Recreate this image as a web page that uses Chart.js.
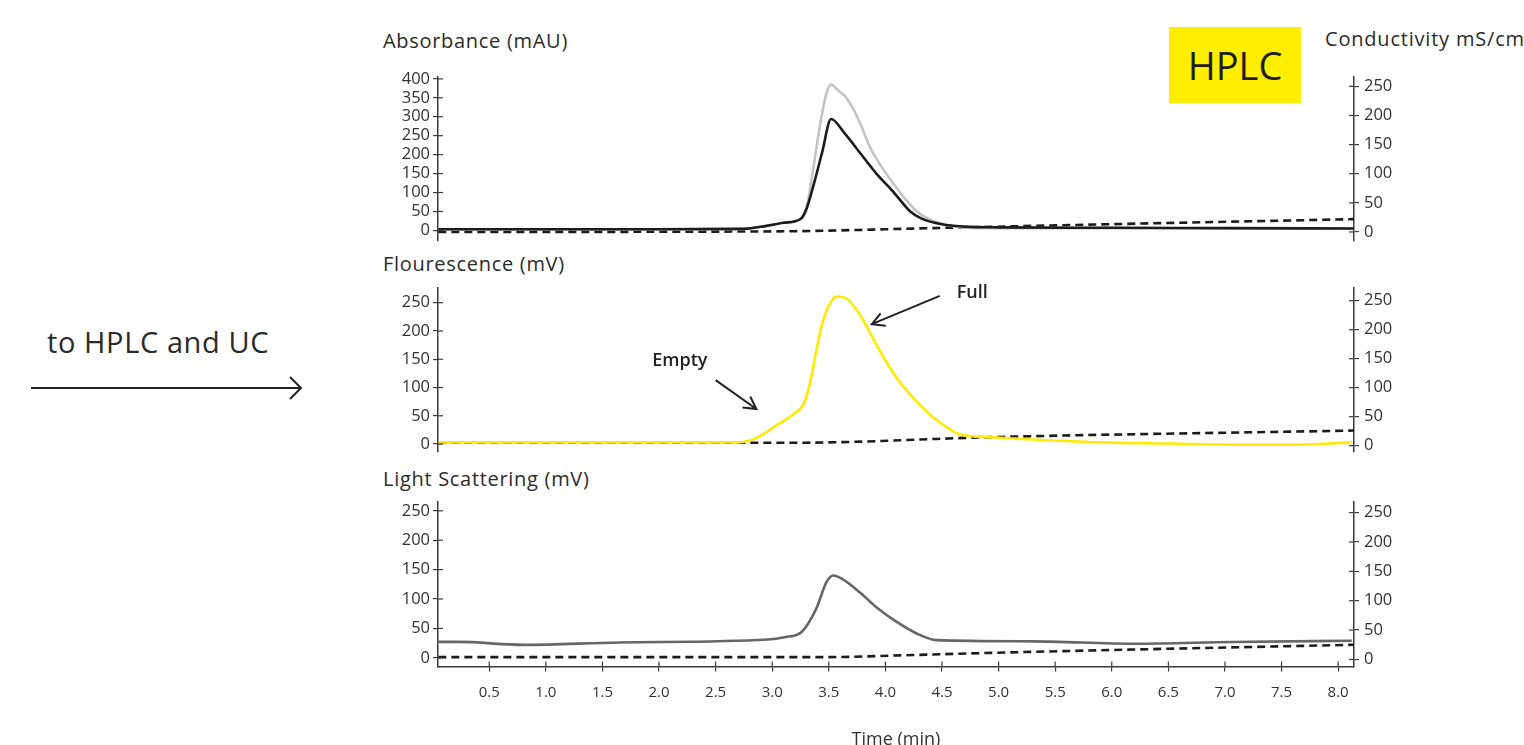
<!DOCTYPE html>
<html>
<head>
<meta charset="utf-8">
<script src="https://cdn.jsdelivr.net/npm/chart.js@4"></script>
<style>
  html, body { margin: 0; padding: 0; background: #fff; overflow: hidden; }
  body { width: 1524px; height: 745px; position: relative; font-family: "Open Sans", sans-serif; color: #2b2b2b; }
  canvas { position: absolute; left: 0; }
  .lbl { position: absolute; white-space: nowrap; line-height: 1; }
  .panel-title { font-size: 20px; left: 383px; letter-spacing: 0.7px; }
  #hplc { position: absolute; left: 1169px; top: 27px; width: 132px; height: 76px; background: #ffee00;
          font-size: 38px; display: flex; align-items: center; justify-content: center; color: #1e1e1e; }
</style>
</head>
<body>
<div class="lbl panel-title" style="top:31px">Absorbance (mAU)</div>
<div class="lbl panel-title" style="top:254px">Flourescence (mV)</div>
<div class="lbl panel-title" style="top:469px">Light Scattering (mV)</div>
<div class="lbl" style="left:1325px; top:29px; font-size:20px; letter-spacing:0.8px">Conductivity mS/cm</div>
<div id="hplc">HPLC</div>
<div class="lbl" style="left:47px; top:327px; font-size:29px; letter-spacing:0.6px">to HPLC and UC</div>
<svg style="position:absolute; left:0; top:370px" width="320" height="40">
  <line x1="31" y1="18" x2="301" y2="18" stroke="#222" stroke-width="2"/>
  <polyline points="290,7 301,18 290,29" fill="none" stroke="#222" stroke-width="2"/>
</svg>

<canvas id="absChart" width="1524" height="204" style="top:57px"></canvas>
<canvas id="flChart" width="1524" height="204" style="top:268px"></canvas>
<canvas id="lsChart" width="1524" height="278" style="top:482px"></canvas>

<script>
// ---- data ----
// Absorbance panel
const absTime = [0.05, 1.0, 2.0, 2.75, 2.95, 3.1, 3.25, 3.3, 3.37, 3.44, 3.52, 3.64, 3.78, 3.92, 4.07, 4.22, 4.32, 4.5, 4.7, 5.0, 6.0, 7.0, 8.14];
const absDark = [3, 3, 3, 4, 12, 20, 30, 55, 125, 205, 294, 256, 203, 150, 102, 50, 31, 16, 10, 8, 7, 6, 5];
const absLightTime = [0.05, 1.0, 2.0, 2.75, 2.95, 3.1, 3.25, 3.3, 3.36, 3.42, 3.48, 3.52, 3.58, 3.64, 3.72, 3.78, 3.86, 3.95, 4.07, 4.19, 4.3, 4.45, 4.6, 4.8, 5.0, 6.0, 7.0, 8.14];
const absLight = [3, 3, 3, 4, 12, 20, 30, 53, 159, 274, 363, 385, 370, 355, 318, 280, 222, 175, 124, 78, 45, 22, 11, 6, 6, 6, 5, 5];
const absCondTime = [0.05, 3.0, 4.5, 5.9, 8.14];
const absCond = [0, 1, 7, 13, 22];

// Fluorescence panel
const flTime = [0.05, 1, 2, 2.7, 2.86, 3.02, 3.18, 3.28, 3.33, 3.39, 3.44, 3.5, 3.57, 3.66, 3.75, 3.84, 3.95, 4.1, 4.25, 4.43, 4.65, 4.94, 5.2, 5.9, 6.5, 7.07, 7.66, 8.12];
const flSignal = [3, 3, 3, 3, 11, 31, 52, 72, 105, 165, 212, 245, 261, 257, 236, 206, 165, 117, 81, 46, 18, 12, 9, 3, 1, -1, -1, 3];
const flCondTime = [0.05, 3.2, 5.0, 8.14];
const flCond = [5, 5, 15, 26];

// Light scattering panel
const lsTime = [0.05, 0.23, 0.8, 1.65, 2.96, 3.11, 3.26, 3.39, 3.48, 3.54, 3.61, 3.77, 3.92, 4.1, 4.28, 4.45, 5.3, 6.2, 7.07, 8.12];
const lsSignal = [27, 27, 22, 26, 31, 35, 44, 84, 129, 140, 135, 112, 86, 61, 41, 30, 28, 24, 27, 29];
const lsCondTime = [0.05, 3.5, 4.13, 5.2, 8.14];
const lsCond = [4, 4, 7, 12.5, 25];

// ticks
const timeTicks = [0.5, 1.0, 1.5, 2.0, 2.5, 3.0, 3.5, 4.0, 4.5, 5.0, 5.5, 6.0, 6.5, 7.0, 7.5, 8.0];
const absTicks = [0, 50, 100, 150, 200, 250, 300, 350, 400];
const mvTicks = [0, 50, 100, 150, 200, 250];
const condTicks = [0, 50, 100, 150, 200, 250];

const axisColor = "#3a3a3a";
const textColor = "#333";
const fontFamily = "'Open Sans', sans-serif";

function pts(xs, ys) {
    return xs.map((x, i) => ({ x: x, y: ys[i] }));
}

function lineSet(xs, ys, color, axis, dashed) {
    return {
        data: pts(xs, ys),
        borderColor: color,
        borderWidth: 2.6,
        borderDash: dashed ? [8, 5] : [],
        pointRadius: 0,
        cubicInterpolationMode: "monotone",
        yAxisID: axis,
        fill: false
    };
}

function yScale(position, range, ticks) {
    return {
        type: "linear",
        position: position,
        min: range[0],
        max: range[1],
        afterBuildTicks: s => { s.ticks = ticks.map(v => ({ value: v })); },
        afterFit: s => { s.width = 50; },
        border: { display: true, color: axisColor, width: 1.5 },
        grid: { drawOnChartArea: false, drawTicks: true, tickLength: 5, color: axisColor, lineWidth: 1.2 },
        ticks: { color: textColor, padding: position === "left" ? 3 : 5, autoSkip: false, font: { family: fontFamily, size: 16.5 } }
    };
}

// short tick marks that cross the axis line (inner half)
const crossTicks = {
    id: "crossTicks",
    afterDraw(chart) {
        const ctx = chart.ctx;
        ctx.save();
        ctx.strokeStyle = axisColor;
        ctx.lineWidth = 1.2;
        Object.values(chart.scales).forEach(s => {
            if (!s.options.display) return;
            s.ticks.forEach((t, i) => {
                const p = s.getPixelForTick(i);
                ctx.beginPath();
                if (s.axis === "x") { ctx.moveTo(p, s.top); ctx.lineTo(p, s.top - 5); }
                else if (s.position === "left") { ctx.moveTo(s.right, p); ctx.lineTo(s.right + 5, p); }
                else { ctx.moveTo(s.left, p); ctx.lineTo(s.left - 5, p); }
                ctx.stroke();
            });
        });
        ctx.restore();
    }
};

// callouts on the fluorescence panel, placed in data units
const callouts = [
    { text: "Empty", at: [1.94, 148], from: [2.5, 113], to: [2.86, 62] },
    { text: "Full", at: [4.63, 268], from: [4.48, 262], to: [3.88, 212] }
];
const calloutPlugin = {
    id: "callouts",
    afterDraw(chart) {
        const ctx = chart.ctx, x = chart.scales.x, y = chart.scales.y;
        ctx.save();
        ctx.fillStyle = "#222";
        ctx.strokeStyle = "#222";
        ctx.lineWidth = 2;
        ctx.font = "600 18px " + fontFamily;
        ctx.textBaseline = "middle";
        callouts.forEach(c => {
            ctx.fillText(c.text, x.getPixelForValue(c.at[0]), y.getPixelForValue(c.at[1]));
            const x1 = x.getPixelForValue(c.from[0]), y1 = y.getPixelForValue(c.from[1]);
            const x2 = x.getPixelForValue(c.to[0]), y2 = y.getPixelForValue(c.to[1]);
            const a = Math.atan2(y2 - y1, x2 - x1);
            ctx.beginPath();
            ctx.moveTo(x1, y1);
            ctx.lineTo(x2, y2);
            ctx.moveTo(x2 - 14 * Math.cos(a - 0.5), y2 - 14 * Math.sin(a - 0.5));
            ctx.lineTo(x2, y2);
            ctx.lineTo(x2 - 14 * Math.cos(a + 0.5), y2 - 14 * Math.sin(a + 0.5));
            ctx.stroke();
        });
        ctx.restore();
    }
};

function makeChart(id, datasets, leftRange, leftTicks, rightRange, showTime, extraPlugins) {
    const ctx = document.getElementById(id).getContext("2d");
    return new Chart(ctx, {
        type: "line",
        data: { datasets: datasets },
        options: {
            responsive: false,
            animation: false,
            layout: { padding: { left: 388, right: 120, top: 20, bottom: showTime ? 0 : 20 } },
            plugins: { legend: { display: false }, tooltip: { enabled: false } },
            scales: {
                x: {
                    type: "linear",
                    min: 0.047,
                    max: 8.14,
                    display: showTime,
                    afterBuildTicks: s => { s.ticks = timeTicks.map(v => ({ value: v })); },
                    afterFit: s => { if (showTime) s.height = 93.5; },
                    border: { display: true, color: axisColor, width: 1.5 },
                    grid: { drawOnChartArea: false, drawTicks: true, tickLength: 5, color: axisColor, lineWidth: 1.2 },
                    ticks: {
                        color: textColor, padding: 12, maxRotation: 0, autoSkip: false,
                        font: { family: fontFamily, size: 15 },
                        callback: v => v.toFixed(1)
                    },
                    title: {
                        display: true, text: "Time (min)", color: textColor,
                        font: { family: fontFamily, size: 18 }, padding: { top: 0, bottom: 9 }
                    }
                },
                y: yScale("left", leftRange, leftTicks),
                y2: yScale("right", rightRange, condTicks)
            }
        },
        plugins: [crossTicks].concat(extraPlugins || [])
    });
}

// Chart.js paints the first dataset last, so the top-most trace goes first
makeChart("absChart", [
    lineSet(absTime, absDark, "#1c1c1c", "y", false),
    lineSet(absLightTime, absLight, "#c4c4c4", "y", false),
    lineSet(absCondTime, absCond, "#1c1c1c", "y2", true)
], [-28, 405], absTicks, [-15.5, 266], false);

makeChart("flChart", [
    lineSet(flTime, flSignal, "#ffea00", "y", false),
    lineSet(flCondTime, flCond, "#1c1c1c", "y2", true)
], [-14, 276], mvTicks, [-11, 272], false, [calloutPlugin]);

makeChart("lsChart", [
    lineSet(lsTime, lsSignal, "#666666", "y", false),
    lineSet(lsCondTime, lsCond, "#1c1c1c", "y2", true)
], [-14.8, 265], mvTicks, [-12, 268], true);
</script>
</body>
</html>
